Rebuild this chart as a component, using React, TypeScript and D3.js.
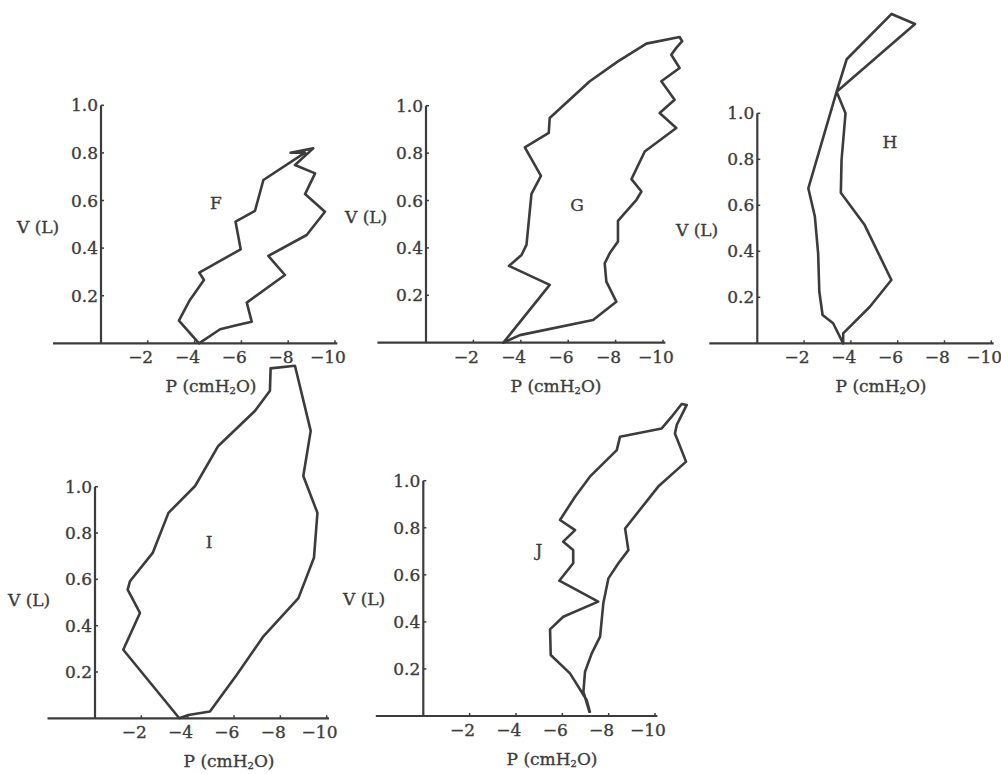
import React, { useRef, useEffect } from 'react';
import * as d3 from 'd3';

const fP = [-4.19, -3.33, -3.8, -4.4, -4.2, -5.97, -5.75, -6.58, -6.94, -8.72, -8.1, -9.07, -8.29, -9.15, -8.72, -9.57, -8.79, -7.15, -7.86, -6.23, -6.44, -5.83, -5.09];
const fV = [0, 0.095, 0.182, 0.266, 0.297, 0.395, 0.511, 0.556, 0.686, 0.801, 0.801, 0.819, 0.749, 0.714, 0.627, 0.553, 0.455, 0.367, 0.287, 0.171, 0.091, 0.077, 0.059];

const gP = [-3.26, -3.96, -7.05, -8.03, -7.61, -7.54, -7.75, -8.1, -8.1, -8.88, -9.09, -8.67, -9.23, -10.56, -9.86, -10.49, -9.93, -10.7, -10.35, -10.56, -10.81, -10.7, -9.3, -8.1, -6.91, -5.22, -5.18, -4.17, -4.85, -4.45, -4.24, -4.03, -3.5, -5.22];
const gV = [0, 0.032, 0.096, 0.173, 0.258, 0.335, 0.377, 0.427, 0.514, 0.603, 0.638, 0.69, 0.807, 0.906, 0.969, 1.025, 1.103, 1.159, 1.215, 1.244, 1.272, 1.29, 1.262, 1.187, 1.103, 0.948, 0.885, 0.824, 0.704, 0.628, 0.413, 0.37, 0.324, 0.244];

const hP = [-3.67, -3.67, -4.81, -5.73, -4.59, -3.57, -3.6, -3.77, -3.39, -3.82, -5.74, -6.74, -3.39, -2.18, -2.46, -2.6, -2.65, -2.79, -3.24];
const hV = [0, 0.043, 0.159, 0.275, 0.514, 0.655, 0.797, 1.0, 1.094, 1.235, 1.432, 1.388, 1.094, 0.674, 0.551, 0.391, 0.225, 0.123, 0.087];

const iP = [-3.64, -4.03, -4.96, -6.12, -7.27, -8.78, -9.45, -9.6, -8.99, -9.31, -8.63, -7.58, -7.55, -6.91, -5.32, -4.32, -3.17, -2.49, -1.51, -1.41, -1.94, -1.22];
const iV = [0, 0.014, 0.029, 0.188, 0.354, 0.519, 0.693, 0.887, 1.046, 1.241, 1.522, 1.511, 1.414, 1.328, 1.176, 1.003, 0.887, 0.714, 0.592, 0.556, 0.455, 0.296];

const jP = [-7.17, -6.91, -6.98, -7.27, -7.63, -7.77, -7.99, -8.42, -8.85, -8.71, -10.14, -11.34, -10.86, -10.94, -11.37, -11.15, -10.72, -10.29, -8.49, -8.35, -7.19, -6.55, -5.9, -6.55, -6.04, -6.47, -6.47, -5.87, -7.55, -6.04, -5.47, -5.5, -6.33, -7.05, -7.19];
const jV = [0.018, 0.103, 0.188, 0.266, 0.337, 0.479, 0.585, 0.649, 0.705, 0.797, 0.975, 1.081, 1.201, 1.237, 1.322, 1.326, 1.272, 1.222, 1.187, 1.13, 1.017, 0.932, 0.833, 0.79, 0.741, 0.705, 0.649, 0.575, 0.486, 0.422, 0.368, 0.259, 0.181, 0.068, 0.018];

const pTicks = [-2, -4, -6, -8, -10];
const vTicks = [0.2, 0.4, 0.6, 0.8, 1.0];

const panels = [
    { name: 'F', p: fP, v: fV, ox: 101, oy: 343.3, kx: 23.4, ky: 238, lab: [216, 202], vl: [17, 233], pl: 211 },
    { name: 'G', p: gP, v: gV, ox: 426, oy: 342.7, kx: 23.7, ky: 237, lab: [577, 204], vl: [345, 223], pl: 556 },
    { name: 'H', p: hP, v: hV, ox: 757.3, oy: 343.3, kx: 23.4, ky: 230, lab: [890, 141], vl: [676, 236], pl: 881 },
    { name: 'I', p: iP, v: iV, ox: 95, oy: 718.3, kx: 23.17, ky: 231.6, lab: [209, 541], vl: [8, 606], pl: 229 },
    { name: 'J', p: jP, v: jV, ox: 423.3, oy: 716, kx: 23.17, ky: 235.3, lab: [539, 549], vl: [343, 605], pl: 552 },
];

const ink = '#3c3c3c';
const font = '"DejaVu Serif", "Liberation Serif", serif';
const fs = 17;
const digitW = 10.8;

const App = () => {
    const ref = useRef(null);

    useEffect(() => {
        const svg = d3.select(ref.current);
        svg.selectAll('*').remove();

        svg.append('rect').attr('width', 1001).attr('height', 774).attr('fill', '#fff');

        const txt = (sel) => sel
            .attr('font-family', font).attr('font-size', fs)
            .attr('fill', ink).attr('stroke', ink).attr('stroke-width', 0.35);

        panels.forEach(pn => {
            const x = d3.scaleLinear().domain([0, -10]).range([pn.ox, pn.ox + 10 * pn.kx]);
            const y = d3.scaleLinear().domain([0, 1]).range([pn.oy, pn.oy - pn.ky]);
            const g = svg.append('g');

            // axes
            g.append('line')
                .attr('x1', x(2.05)).attr('x2', x(-10.1))
                .attr('y1', y(0)).attr('y2', y(0))
                .attr('stroke', ink).attr('stroke-width', 2.2);
            g.append('line')
                .attr('x1', x(0)).attr('x2', x(0))
                .attr('y1', y(0)).attr('y2', y(1))
                .attr('stroke', ink).attr('stroke-width', 2.2);

            g.selectAll('.xt').data(pTicks).join('line')
                .attr('x1', d => x(d)).attr('x2', d => x(d))
                .attr('y1', y(0)).attr('y2', y(0) - 3)
                .attr('stroke', ink).attr('stroke-width', 1.5);
            g.selectAll('.yt').data(vTicks).join('line')
                .attr('x1', x(0)).attr('x2', x(0) + 3)
                .attr('y1', d => y(d)).attr('y2', d => y(d))
                .attr('stroke', ink).attr('stroke-width', 1.5);

            g.selectAll('.xl').data(pTicks).join('text')
                .attr('x', d => x(d) + (String(-d).length * digitW) / 2)
                .attr('y', y(0) + 20)
                .attr('text-anchor', 'end')
                .call(txt)
                .text(d => '\u2212' + (-d));
            g.selectAll('.yl').data(vTicks).join('text')
                .attr('x', x(0) - 3)
                .attr('y', d => y(d) + 6)
                .attr('text-anchor', 'end')
                .call(txt)
                .text(d => d3.format('.1f')(d));

            // axis titles
            g.append('text')
                .attr('x', pn.vl[0]).attr('y', pn.vl[1])
                .call(txt)
                .text('V (L)');
            const pt = g.append('text')
                .attr('x', pn.pl).attr('y', y(0) + 49)
                .attr('text-anchor', 'middle')
                .call(txt);
            pt.append('tspan').text('P (cmH');
            pt.append('tspan').attr('font-size', 10).attr('dy', 2).text('2');
            pt.append('tspan').attr('dy', -2).text('O)');

            g.append('text')
                .attr('x', pn.lab[0]).attr('y', pn.lab[1] + 7)
                .attr('text-anchor', 'middle')
                .call(txt)
                .text(pn.name);

            // loop
            const line = d3.line()
                .x(d => x(d[0]))
                .y(d => y(d[1]))
                .curve(d3.curveLinearClosed);
            g.append('path')
                .datum(pn.p.map((p, i) => [p, pn.v[i]]))
                .attr('d', line)
                .attr('fill', 'none')
                .attr('stroke', ink)
                .attr('stroke-width', 2.6)
                .attr('stroke-linejoin', 'round');
        });
    }, []);

    return (
        <svg ref={ref} width={1001} height={774} style={{ position: 'absolute', left: 0, top: 0 }}></svg>
    );
};

export default App;
